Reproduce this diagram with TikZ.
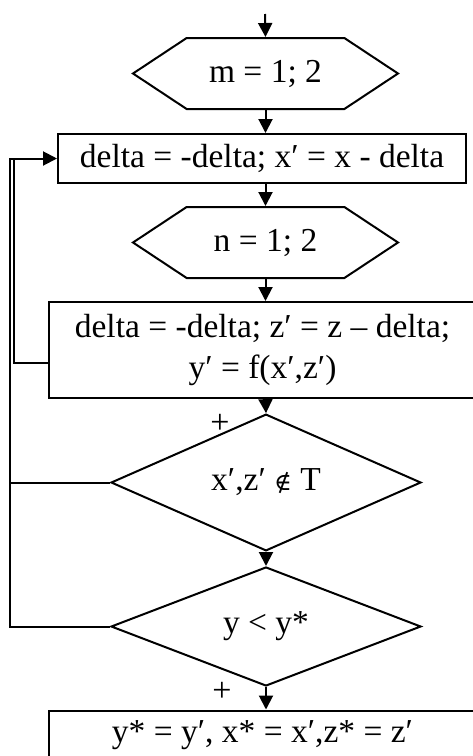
\documentclass[tikz,border=0pt]{standalone}
\usepackage{fontspec}
\setmainfont{Liberation Serif}
\newfontfamily\symfont{DejaVu Serif}
\usetikzlibrary{arrows.meta,shapes.geometric,shapes.symbols}
\begin{document}
\begin{tikzpicture}[x=1pt,y=-1pt,
  every node/.style={font=\fontsize{33.5}{41}\selectfont, inner sep=0pt},
  ln/.style={line width=2pt},
  arr/.style={ln,-{Triangle[width=14pt,length=14pt]}},
  hexa/.style={ln,draw,signal,signal to=west and east,signal pointer angle=67,minimum width=265pt,minimum height=71pt},
  boxx/.style={ln,draw,rectangle},
  dia/.style={ln,draw,diamond,minimum width=310pt,minimum height=119pt},
  plus/.style={font=\fontsize{34}{36}\selectfont}]
\useasboundingbox (0,0) rectangle (472,756);
\coordinate (start) at (265,14);
\node[hexa] (h1) at (265.5,73.5) {m = 1; 2};
\node[boxx,minimum width=408pt,minimum height=49pt] (r1) at (262,158.5) {delta = -delta; x′ = x - delta};
\node[hexa] (h2) at (265.5,242.5) {n = 1; 2};
\node[boxx,minimum width=427pt,minimum height=96pt,align=center] (r2) at (262.5,350) {delta = -delta; z′ = z – delta;\\y′ = f(x′,z′)};
\node[dia] (d1) at (266,482.5) {x′,z′ {\symfont\fontsize{24}{26}\selectfont ∉} T};
\node[dia] (d2) at (266,626.5) {y < y*};
\node[boxx,minimum width=427pt,minimum height=49pt] (r3) at (262.5,735) {y* = y′, x* = x′,z* = z′};
\node[plus] (p1) at (220,424) {+};
\node[plus] (p2) at (222,692) {+};
\coordinate (outer) at (10,158.5);
\coordinate (inner) at (14,158.5);
\draw[arr] (start) -- (h1.north);
\draw[arr] (h1.south) -- (r1.north -| h1.south);
\draw[arr] (r1.south -| h1.south) -- (h2.north);
\draw[arr] (h2.south) -- (r2.north -| h2.south);
\draw[arr] (r2.south -| h2.south) -- (d1.north);
\draw[arr] (d1.south) -- (d2.north);
\draw[arr] (d2.south) -- (r3.north -| d2.south);
\draw[ln] ([yshift=-13pt]r2.west) -| (inner);
\draw[ln] (d1.west) -| (outer);
\draw[arr] (d2.west) -| (outer) -- (r1.west);
\end{tikzpicture}
\end{document}
